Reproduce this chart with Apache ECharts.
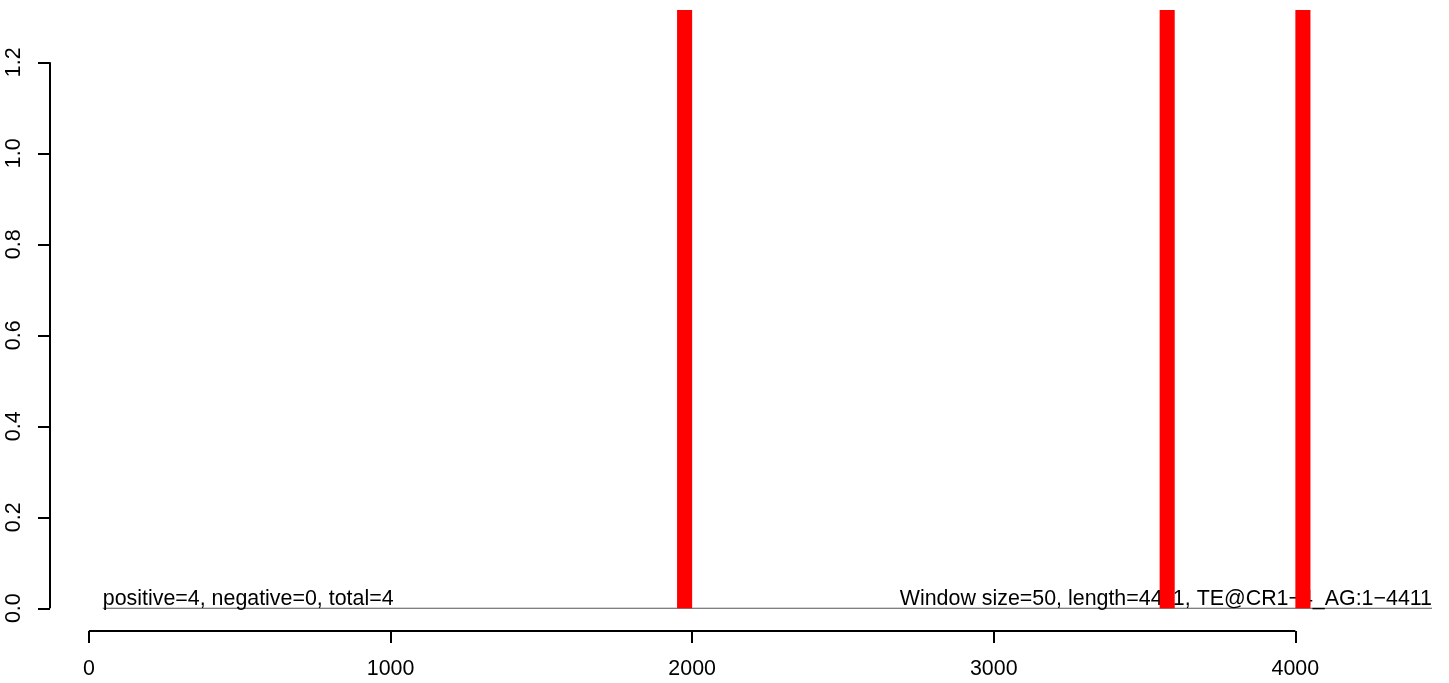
<!DOCTYPE html>
<html>
<head>
<meta charset="utf-8">
<script src="https://cdn.jsdelivr.net/npm/echarts@6/dist/echarts.min.js"></script>
<style>
html,body{margin:0;padding:0;background:#fff;}
#chart{width:1449px;height:683px;}
</style>
</head>
<body>
<div id="chart"></div>
<script>
// ---- data ----
const xTicks = [0, 1000, 2000, 3000, 4000];
const yTicks = [0, 0.2, 0.4, 0.6, 0.8, 1.0, 1.2];
const binStart = [1950, 3550, 4000];
const binEnd = [2000, 3600, 4050];
const binValue = [1.5, 1.5, 1.5]; // clipped at top of plot region
const leftNote = 'positive=4, negative=0, total=4';
const rightNote = 'Window size=50, length=4411, TE@CR1\u22124_AG:1\u22124411';
const noteX = [46, 4453];          // where the notes sit along the zero line
const zeroLineX = [46, 4453];      // extent of the zero reference line
const xRange = [-129, 4453];
const yRange = [-0.05, 1.315];

const FONT = '"Liberation Sans", Arial, Helvetica, sans-serif';
const FS = 21.4;

const bins = binStart.map((s, i) => [s, binEnd[i], binValue[i]]);

const chart = echarts.init(document.getElementById('chart'), null, {renderer: 'canvas'});
chart.setOption({
  animation: false,
  backgroundColor: '#ffffff',
  grid: {left: 50, right: 17, top: 10, bottom: 52, containLabel: false},
  xAxis: {
    type: 'value', min: xRange[0], max: xRange[1],
    splitLine: {show: false},
    axisLine: {show: false, onZero: false},
    axisTick: {show: true, customValues: xTicks, length: 12, lineStyle: {color: '#000', width: 2}},
    axisLabel: {show: true, customValues: xTicks, margin: 28, color: '#000', fontSize: FS, fontFamily: FONT,
      formatter: v => String(v)}
  },
  yAxis: {
    type: 'value', min: yRange[0], max: yRange[1],
    splitLine: {show: false},
    axisLine: {show: false, onZero: false},
    axisTick: {show: true, customValues: yTicks, length: 12, lineStyle: {color: '#000', width: 2}},
    axisLabel: {show: true, customValues: yTicks, margin: 25, rotate: 90, color: '#000', fontSize: FS, fontFamily: FONT,
      formatter: v => v.toFixed(1)}
  },
  series: [
    // x axis line (0 .. 4000) at the bottom of the plot region
    {type: 'line', clip: false, silent: true, symbol: 'none', z: 3,
      data: [[xTicks[0], yRange[0]], [xTicks[xTicks.length - 1], yRange[0]]],
      lineStyle: {color: '#000', width: 2}},
    // y axis line (0 .. 1.2) at the left of the plot region
    {type: 'line', clip: false, silent: true, symbol: 'none', z: 3,
      data: [[xRange[0], yTicks[0]], [xRange[0], yTicks[yTicks.length - 1]]],
      lineStyle: {color: '#000', width: 2}},
    // zero reference line
    {type: 'line', clip: false, silent: true, symbol: 'none', z: 2,
      data: [[zeroLineX[0], 0], [zeroLineX[1], 0]],
      lineStyle: {color: '#555', width: 1.2}},
    // notes
    {type: 'custom', silent: true, z: 4,
      data: [[noteX[0], 0, 0], [noteX[1], 0, 1]],
      renderItem: function (params, api) {
        const p = api.coord([api.value(0), api.value(1)]);
        const isLeft = api.value(2) === 0;
        return {
          type: 'text',
          x: p[0], y: p[1] - 9,
          style: {
            text: isLeft ? leftNote : rightNote,
            fill: '#000', fontSize: FS, fontFamily: FONT,
            align: isLeft ? 'left' : 'right', verticalAlign: 'middle'
          }
        };
      }},
    // bins
    {type: 'custom', silent: true, z: 5,
      data: bins,
      renderItem: function (params, api) {
        const a = api.coord([api.value(0), 0]);
        const b = api.coord([api.value(1), api.value(2)]);
        const rect = echarts.graphic.clipRectByRect(
          {x: a[0], y: b[1], width: b[0] - a[0], height: a[1] - b[1]},
          {x: params.coordSys.x, y: params.coordSys.y, width: params.coordSys.width, height: params.coordSys.height});
        return rect && {type: 'rect', shape: rect, style: {fill: '#ff0000'}};
      }}
  ]
});
</script>
</body>
</html>
